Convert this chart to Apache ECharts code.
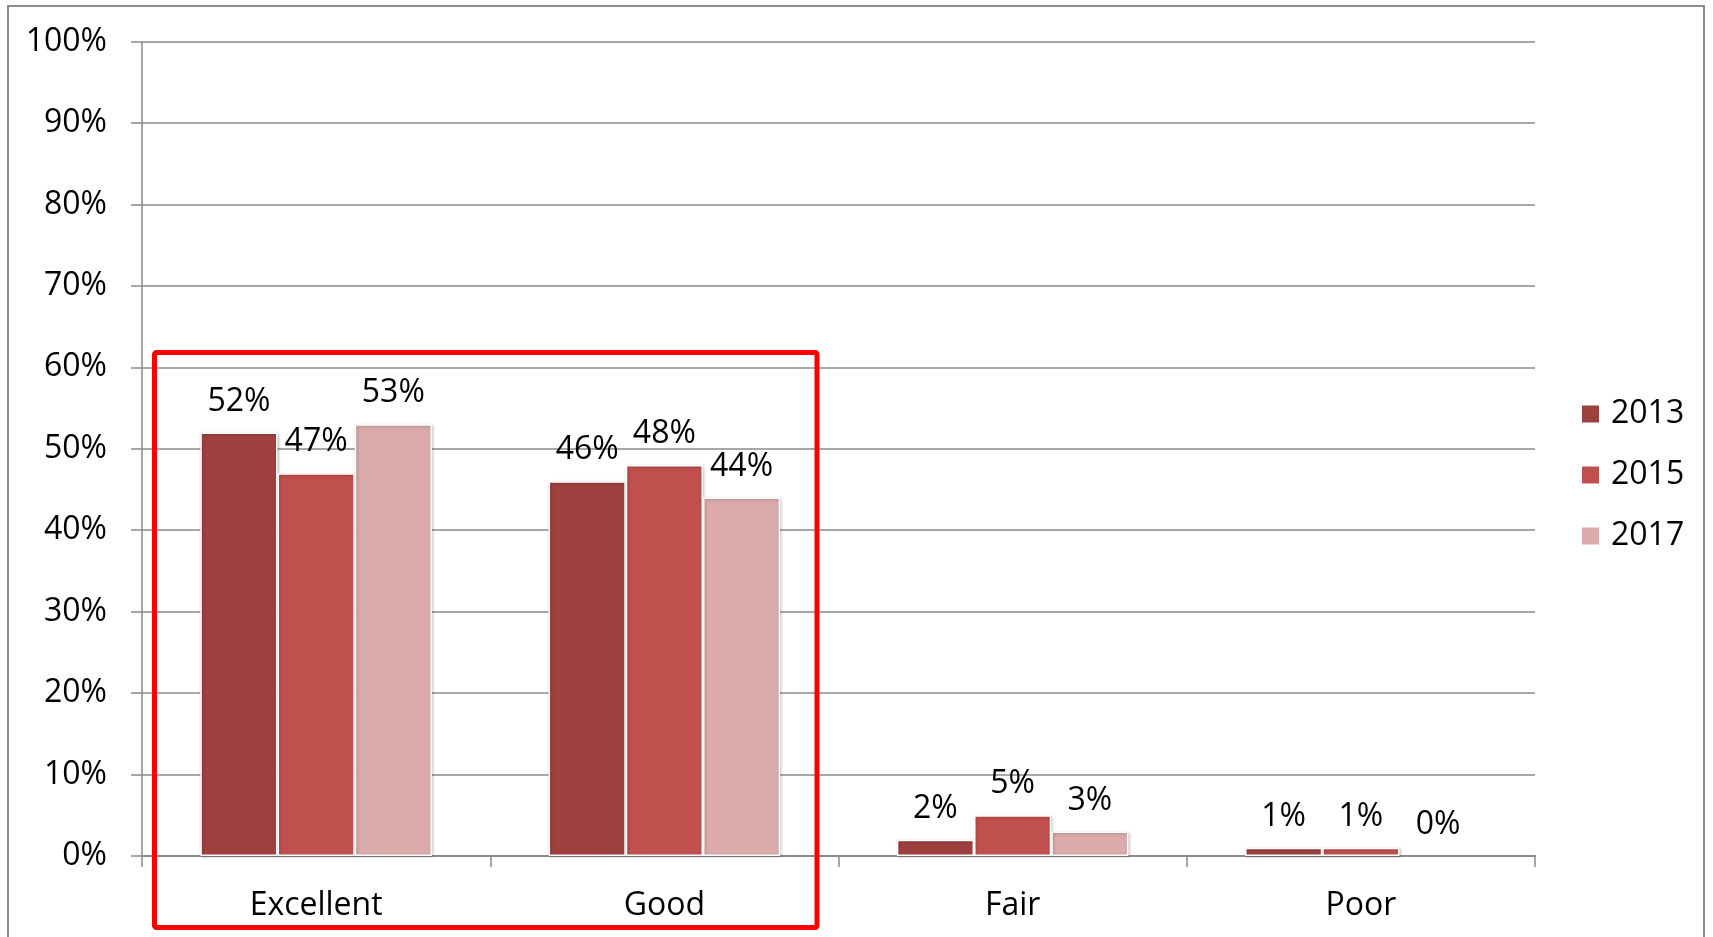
<!DOCTYPE html>
<html>
<head>
<meta charset="utf-8">
<script src="https://cdn.jsdelivr.net/npm/echarts@6/dist/echarts.min.js"></script>
<style>
html,body{margin:0;padding:0;background:#fff;}
#chart{width:1713px;height:937px;}
</style>
</head>
<body>
<div id="chart"></div>
<script>
var categories = ['Excellent', 'Good', 'Fair', 'Poor'];
var seriesNames = ['2013', '2015', '2017'];
var values2013 = [52, 46, 2, 1];
var values2015 = [47, 48, 5, 1];
var values2017 = [53, 44, 3, 0];
var yTicks = [0, 10, 20, 30, 40, 50, 60, 70, 80, 90, 100];
var colors = ['#9E413E', '#C0504D', '#DAABAA'];

var FONT = '"Open Sans", "Liberation Sans", sans-serif';
var FS = 32;

var chart = echarts.init(document.getElementById('chart'), null, {renderer: 'canvas'});

function mkSeries(name, data, color) {
  return {
    name: name,
    type: 'bar',
    data: data.map(function (v) {
      return v === 0
        ? {value: v, itemStyle: {borderWidth: 0, shadowBlur: 0, shadowOffsetX: 0, shadowOffsetY: 0, shadowColor: 'rgba(0,0,0,0)'}}
        : v;
    }),
    barGap: '0%',
    barCategoryGap: '33.5%',
    itemStyle: {
      color: color,
      borderColor: '#ffffff',
      borderWidth: 1.5,
      shadowColor: 'rgba(0,0,0,0.25)',
      shadowBlur: 3,
      shadowOffsetX: 1,
      shadowOffsetY: 1
    },
    label: {
      show: true,
      position: 'top',
      distance: 15,
      formatter: '{c}%',
      color: '#000',
      fontFamily: FONT,
      fontSize: FS,
      lineHeight: FS
    },
    emphasis: {disabled: true}
  };
}

var option = {
  backgroundColor: '#ffffff',
  animation: false,
  color: colors,
  grid: {left: 142, right: 178, top: 41.5, bottom: 81, containLabel: false},
  legend: {
    orient: 'vertical',
    left: 1580,
    top: 398,
    padding: 0,
    icon: 'rect',
    itemWidth: 19,
    itemHeight: 19,
    itemGap: 29,
    data: seriesNames,
    textStyle: {
      color: '#000',
      fontFamily: FONT,
      fontSize: FS,
      lineHeight: FS,
      padding: [0, 0, 0, 6]
    }
  },
  xAxis: {
    type: 'category',
    data: categories,
    boundaryGap: true,
    axisLine: {show: true, lineStyle: {color: '#8A8A8A', width: 2}},
    axisTick: {show: true, length: 11, alignWithLabel: false, lineStyle: {color: '#8A8A8A', width: 1.5}},
    axisLabel: {
      color: '#000',
      fontFamily: FONT,
      fontSize: FS,
      lineHeight: FS,
      margin: 34
    },
    splitLine: {show: false}
  },
  yAxis: {
    type: 'value',
    min: 0,
    max: 100,
    interval: 10,
    axisLine: {show: true, lineStyle: {color: '#8A8A8A', width: 1.5}},
    axisTick: {show: true, length: 11, inside: false, lineStyle: {color: '#8A8A8A', width: 1.5}},
    axisLabel: {
      color: '#000',
      fontFamily: FONT,
      fontSize: FS,
      margin: 35,
      formatter: function (v) { return yTicks.indexOf(v) >= 0 ? v + '%' : ''; }
    },
    splitLine: {show: true, lineStyle: {color: '#8A8A8A', width: 1.5}}
  },
  series: [
    mkSeries(seriesNames[0], values2013, colors[0]),
    mkSeries(seriesNames[1], values2015, colors[1]),
    mkSeries(seriesNames[2], values2017, colors[2])
  ],
  graphic: [
    {
      type: 'rect',
      silent: true,
      shape: {x: 8, y: 6, width: 1696, height: 945},
      style: {fill: 'none', stroke: '#8C8C8C', lineWidth: 2},
      z: 100
    },
    {
      type: 'rect',
      silent: true,
      shape: {x: 154.5, y: 352.5, width: 662.5, height: 575, r: 2},
      style: {fill: 'none', stroke: '#FF0000', lineWidth: 5},
      z: 100
    }
  ]
};

chart.setOption(option);
</script>
</body>
</html>
